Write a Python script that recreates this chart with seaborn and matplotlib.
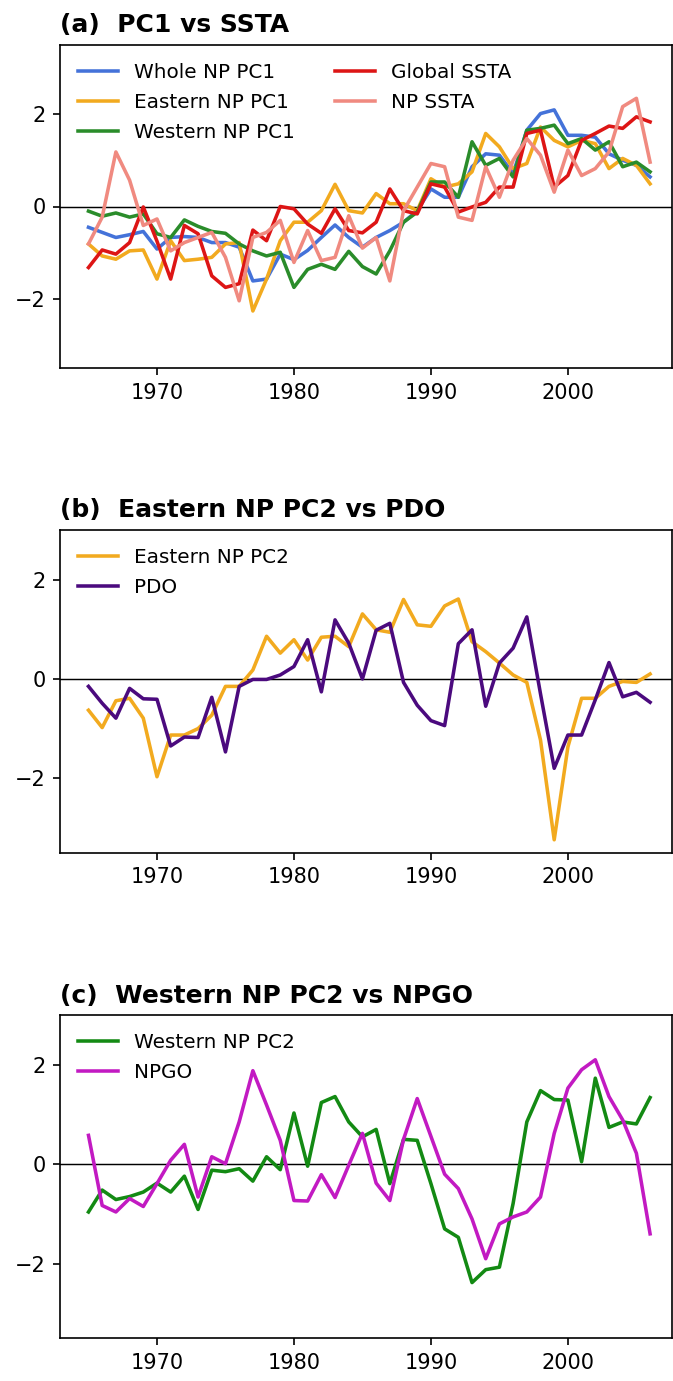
import matplotlib
matplotlib.use("Agg")
import matplotlib.pyplot as plt
import seaborn as sns
import pandas as pd

# ---------------- data ----------------
years = list(range(1965, 2007))

whole_np_pc1 = [-0.45, -0.56, -0.67, -0.61, -0.54, -0.92, -0.67, -0.65, -0.67, -0.78, -0.78, -0.88,
                -1.61, -1.57, -1.03, -1.15, -0.95, -0.67, -0.40, -0.67, -0.88,
                -0.67, -0.52, -0.34, -0.09, 0.38, 0.20, 0.20, 0.86, 1.14, 1.11, 0.71, 1.65, 2.01,
                2.09, 1.54, 1.54, 1.50, 1.14, 1.00, 0.89, 0.64]
eastern_np_pc1 = [-0.81, -1.07, -1.14, -0.96, -0.94, -1.57, -0.74, -1.17, -1.14, -1.10, -0.81, -0.78,
                  -2.26, -1.57, -0.74, -0.34, -0.34, -0.09, 0.48, -0.09, -0.14,
                  0.28, 0.06, 0.06, -0.09, 0.60, 0.42, 0.49, 0.75, 1.58, 1.29, 0.82, 0.93, 1.72,
                  1.43, 1.29, 1.43, 1.36, 0.82, 1.04, 0.89, 0.49]
western_np_pc1 = [-0.10, -0.21, -0.14, -0.23, -0.16, -0.59, -0.67, -0.29, -0.43, -0.54, -0.58, -0.81,
                  -0.96, -1.07, -0.99, -1.75, -1.36, -1.25, -1.36, -0.97, -1.30,
                  -1.46, -0.96, -0.34, -0.12, 0.53, 0.53, 0.20, 1.40, 0.89, 1.04, 0.64, 1.65, 1.69,
                  1.76, 1.36, 1.47, 1.22, 1.40, 0.86, 0.96, 0.75]
global_ssta = [-1.32, -0.94, -1.03, -0.78, -0.01, -0.75, -1.57, -0.41, -0.59, -1.50, -1.75, -1.67,
               -0.51, -0.74, 0.00, -0.05, -0.38, -0.58, -0.05, -0.52, -0.57,
               -0.34, 0.38, -0.09, -0.16, 0.49, 0.42, -0.12, -0.01, 0.09, 0.42, 0.42, 1.58, 1.65,
               0.42, 0.67, 1.43, 1.58, 1.74, 1.69, 1.94, 1.83]
np_ssta = [-0.81, -0.23, 1.18, 0.57, -0.41, -0.27, -0.96, -0.78, -0.67, -0.56, -1.10, -2.04,
           -0.67, -0.56, -0.30, -1.21, -0.52, -1.17, -1.10, -0.20, -0.90,
           -0.67, -1.61, -0.09, 0.42, 0.93, 0.86, -0.23, -0.30, 0.86, 0.20, 1.00, 1.47, 1.11,
           0.31, 1.22, 0.67, 0.82, 1.18, 2.16, 2.34, 0.96]

eastern_np_pc2 = [-0.63, -0.98, -0.44, -0.39, -0.79, -1.97, -1.13, -1.13, -1.00, -0.73, -0.15, -0.15,
                  0.18, 0.86, 0.52, 0.79, 0.38, 0.84, 0.86, 0.65, 1.31,
                  0.99, 0.94, 1.60, 1.09, 1.06, 1.47, 1.61, 0.75, 0.55, 0.32, 0.08, -0.07, -1.23,
                  -3.24, -1.37, -0.39, -0.39, -0.15, -0.05, -0.07, 0.10]
pdo = [-0.15, -0.49, -0.79, -0.19, -0.40, -0.41, -1.35, -1.17, -1.18, -0.37, -1.47, -0.15,
       -0.01, -0.01, 0.08, 0.25, 0.79, -0.26, 1.19, 0.72, 0.00,
       0.98, 1.12, -0.07, -0.53, -0.84, -0.94, 0.71, 0.99, -0.55, 0.32, 0.62, 1.25, -0.30,
       -1.80, -1.13, -1.13, -0.42, 0.33, -0.36, -0.27, -0.47]

western_np_pc2 = [-0.96, -0.52, -0.71, -0.65, -0.56, -0.38, -0.56, -0.24, -0.91, -0.12, -0.15, -0.09,
                  -0.34, 0.15, -0.11, 1.03, -0.04, 1.24, 1.36, 0.85, 0.55,
                  0.70, -0.39, 0.50, 0.48, -0.39, -1.30, -1.47, -2.38, -2.12, -2.07, -0.79, 0.85, 1.48,
                  1.30, 1.29, 0.05, 1.73, 0.74, 0.85, 0.81, 1.34]
npgo = [0.58, -0.83, -0.96, -0.69, -0.85, -0.39, 0.08, 0.40, -0.66, 0.15, 0.01, 0.85,
        1.88, 1.19, 0.48, -0.73, -0.74, -0.21, -0.67, -0.02, 0.62,
        -0.38, -0.73, 0.50, 1.32, 0.56, -0.20, -0.49, -1.10, -1.90, -1.20, -1.06, -0.96, -0.66,
        0.62, 1.53, 1.90, 2.10, 1.36, 0.89, 0.22, -1.40]

titles = ["(a)  PC1 vs SSTA", "(b)  Eastern NP PC2 vs PDO", "(c)  Western NP PC2 vs NPGO"]
xticks = [1970, 1980, 1990, 2000]
yticks = [-2, 0, 2]

panels = [
    [("Whole NP PC1", whole_np_pc1, "#4472D9"),
     ("Eastern NP PC1", eastern_np_pc1, "#F2AA1F"),
     ("Western NP PC1", western_np_pc1, "#2A8C2A"),
     ("Global SSTA", global_ssta, "#DD1515"),
     ("NP SSTA", np_ssta, "#F08A80")],
    [("Eastern NP PC2", eastern_np_pc2, "#F2AA1F"),
     ("PDO", pdo, "#4B0A7E")],
    [("Western NP PC2", western_np_pc2, "#138A13"),
     ("NPGO", npgo, "#C21AC2")],
]
ylims = [(-3.5, 3.5), (-3.5, 3.0), (-3.5, 3.0)]

# ---------------- figure ----------------
plt.rcParams["font.family"] = ["DejaVu Sans"]
fig = plt.figure(figsize=(673 / 150, 1381 / 150), dpi=150)
H = 1381.0
left, width = 60 / 673, 612 / 673
boxes = [(44.7, 368.3), (530.0, 852.7), (1015.0, 1338.3)]

for i, (panel, (top, bot)) in enumerate(zip(panels, boxes)):
    ax = fig.add_axes([left, (H - bot) / H, width, (bot - top) / H])
    ax.axhline(0, color="black", lw=0.7, zorder=1)
    for label, vals, color in panel:
        df = pd.DataFrame({"year": years, "value": vals})
        sns.lineplot(data=df, x="year", y="value", ax=ax, color=color,
                     lw=1.7, label=label, legend=False, zorder=2)
    ax.set_xlim(1962.92, 2007.6)
    ax.set_ylim(*ylims[i])
    ax.set_xticks(xticks)
    ax.set_yticks(yticks)
    ax.set_xlabel("")
    ax.set_ylabel("")
    ax.tick_params(labelsize=10, length=3.5)
    ax.set_title(titles[i], loc="left", fontweight="bold", fontsize=12)
    ax.legend(loc="upper left", frameon=False, ncol=2 if i == 0 else 1,
              fontsize=9.6, labelspacing=0.55)

fig.savefig("out.png", dpi=150)
